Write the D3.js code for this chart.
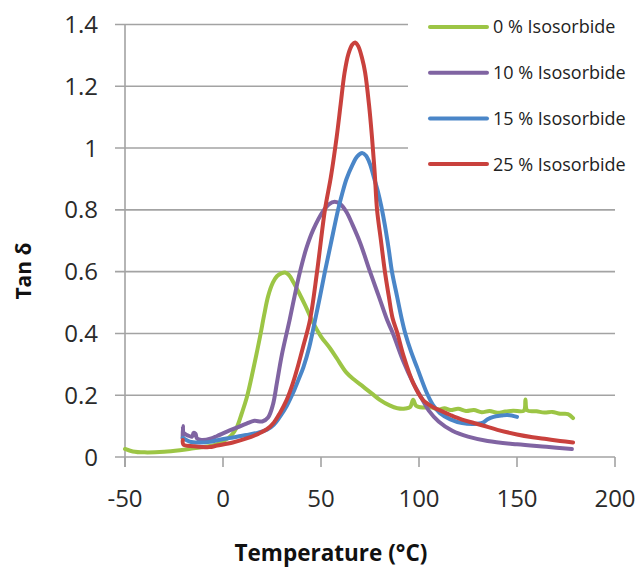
<!DOCTYPE html>
<html>
<head>
<meta charset="utf-8">
<script src="https://cdn.jsdelivr.net/npm/d3@7"></script>
<style>
  html, body { margin: 0; padding: 0; background: #fff; }
  svg { display: block; }
</style>
</head>
<body>
<svg id="chart" width="638" height="571"></svg>
<script>
// ---- data (Temperature °C, Tan δ) ----
const seriesNames = ["0 % Isosorbide", "10 % Isosorbide", "15 % Isosorbide", "25 % Isosorbide"];
const seriesColors = ["#9CC545", "#8064A2", "#4A86C8", "#C9413D"];

const iso0 = [[-50,0.026],[-46,0.018],[-40,0.015],[-30,0.017],[-22,0.022],[-15,0.028],[-8,0.034],[-3,0.042],[1,0.055],[4,0.068],[7.1,0.097],[9.5,0.14],[12.2,0.194],[15.3,0.28],[18.9,0.39],[21,0.46],[23,0.52],[25.5,0.565],[27.5,0.585],[30,0.595],[31.6,0.597],[33.5,0.59],[36,0.565],[38.5,0.535],[42,0.49],[46,0.434],[50,0.39],[54.6,0.352],[58,0.32],[63,0.273],[67,0.25],[71.5,0.228],[76,0.205],[80,0.185],[85,0.167],[89,0.158],[93,0.157],[95.5,0.162],[97,0.185],[98.5,0.166],[102,0.16],[106,0.161],[110,0.154],[113,0.158],[116,0.152],[120,0.156],[124,0.149],[128,0.152],[132,0.145],[136,0.149],[140,0.143],[144,0.147],[148,0.15],[153.5,0.15],[154.3,0.186],[155.2,0.151],[160,0.148],[164,0.144],[168,0.146],[172,0.14],[176,0.139],[178.6,0.126]];

const iso10 = [[-20.6,0.06],[-20.45,0.1],[-20.1,0.078],[-18,0.07],[-15.8,0.066],[-15,0.078],[-14,0.075],[-13.3,0.06],[-11,0.055],[-6,0.06],[-3,0.068],[2,0.082],[7,0.095],[12,0.108],[16,0.117],[20,0.115],[23,0.128],[25.5,0.17],[27.5,0.24],[30,0.33],[34,0.444],[36.5,0.52],[39.3,0.6],[42.5,0.675],[46,0.735],[51,0.795],[54,0.818],[57,0.826],[60,0.818],[63,0.793],[66,0.753],[70,0.693],[75,0.6],[79.5,0.52],[83.7,0.444],[86.7,0.4],[92,0.31],[97,0.24],[100.5,0.2],[105,0.15],[110,0.115],[117,0.085],[125,0.066],[135,0.052],[150,0.041],[165,0.033],[178,0.026]];

const iso15 = [[-20.5,0.062],[-17,0.05],[-12,0.047],[-6.6,0.049],[-3,0.054],[3,0.061],[12,0.071],[18,0.079],[22.4,0.088],[26,0.105],[29,0.13],[32.5,0.165],[35.7,0.207],[38.5,0.25],[41,0.29],[44,0.355],[47,0.444],[49.5,0.52],[52,0.6],[55,0.69],[58.7,0.8],[61,0.857],[63,0.9],[66,0.945],[68.5,0.973],[71,0.984],[73,0.975],[75,0.948],[77,0.905],[79,0.86],[80.8,0.81],[82.6,0.75],[84.5,0.675],[86.2,0.6],[88.8,0.52],[91.3,0.444],[93,0.4],[96,0.34],[99,0.29],[104,0.207],[107,0.17],[110.7,0.142],[116,0.122],[122,0.11],[128,0.107],[132.6,0.111],[135,0.122],[138,0.13],[142,0.134],[145,0.136],[150,0.13]];

const iso25 = [[-20.5,0.055],[-20.2,0.04],[-15,0.035],[-7,0.032],[-3,0.037],[5,0.047],[12,0.06],[18,0.075],[22.4,0.09],[26,0.112],[29,0.142],[32.5,0.185],[35.7,0.24],[38.5,0.3],[41,0.36],[44.4,0.444],[48,0.6],[52,0.8],[55,0.905],[58,1.036],[60,1.14],[62,1.243],[64,1.305],[66,1.335],[67.4,1.342],[69,1.33],[71,1.29],[72.5,1.245],[74.5,1.14],[76,1.036],[77.4,0.92],[78.6,0.8],[80.6,0.7],[82.6,0.6],[84.6,0.52],[86.5,0.45],[89,0.4],[92,0.33],[97,0.24],[102,0.185],[107,0.162],[111,0.15],[116,0.136],[122,0.121],[128,0.11],[133,0.101],[140,0.088],[150,0.073],[158,0.064],[165,0.058],[172,0.052],[178.6,0.047]];

const seriesData = [iso0, iso10, iso15, iso25];

const xTicks = [-50, 0, 50, 100, 150, 200];
const xTickLabels = ["-50", "0", "50", "100", "150", "200"];
const yTicks = [0, 0.2, 0.4, 0.6, 0.8, 1, 1.2, 1.4];
const yTickLabels = ["0", "0.2", "0.4", "0.6", "0.8", "1", "1.2", "1.4"];

// ---- layout ----
const svg = d3.select("#chart");
const x = d3.scaleLinear().domain([-50, 200]).range([125, 615]);
const y = d3.scaleLinear().domain([0, 1.4]).range([457, 24.5]);
const gridColor = "#A3A3A3";
const font = "'Open Sans', 'Liberation Sans', sans-serif";

// gridlines (with left tick stub)
svg.append("g").selectAll("line").data(yTicks).join("line")
  .attr("x1", 115).attr("x2", x(200))
  .attr("y1", d => y(d)).attr("y2", d => y(d))
  .attr("stroke", gridColor).attr("stroke-width", 1.6);

// y axis line
svg.append("line").attr("x1", x(-50)).attr("x2", x(-50))
  .attr("y1", y(1.4)).attr("y2", y(0) + 10)
  .attr("stroke", gridColor).attr("stroke-width", 1.6);

// x ticks
svg.append("g").selectAll("line").data(xTicks).join("line")
  .attr("x1", d => x(d)).attr("x2", d => x(d))
  .attr("y1", y(0)).attr("y2", y(0) + 10)
  .attr("stroke", gridColor).attr("stroke-width", 1.6);

// tick labels
svg.append("g").selectAll("text").data(yTicks).join("text")
  .attr("x", 98).attr("y", d => y(d)).attr("dy", "0.36em")
  .attr("text-anchor", "end")
  .attr("font-family", font).attr("font-size", 24).attr("fill", "#2a2a2a")
  .text((d, i) => yTickLabels[i]);

svg.append("g").selectAll("text").data(xTicks).join("text")
  .attr("x", d => x(d)).attr("y", 507)
  .attr("text-anchor", "middle")
  .attr("font-family", font).attr("font-size", 24).attr("fill", "#2a2a2a")
  .text((d, i) => xTickLabels[i]);

// axis titles
svg.append("text")
  .attr("transform", "translate(31,271) rotate(-90)")
  .attr("text-anchor", "middle")
  .attr("font-family", font).attr("font-weight", "bold").attr("font-size", 21).attr("fill", "#111")
  .text("Tan δ");

svg.append("text")
  .attr("x", 331).attr("y", 561)
  .attr("text-anchor", "middle")
  .attr("font-family", font).attr("font-weight", "bold").attr("font-size", 22.5).attr("fill", "#111")
  .text("Temperature (°C)");

// legend background (covers gridlines)
svg.append("rect").attr("x", 408).attr("y", 4).attr("width", 230).attr("height", 182).attr("fill", "#fff");

// series lines
const line = d3.line().x(d => x(d[0])).y(d => y(d[1])).curve(d3.curveCatmullRom.alpha(0.5));
svg.append("g").selectAll("path").data(seriesData).join("path")
  .attr("d", d => line(d))
  .attr("fill", "none")
  .attr("stroke", (d, i) => seriesColors[i])
  .attr("stroke-width", 4)
  .attr("stroke-linejoin", "round")
  .attr("stroke-linecap", "round");

// legend
const lg = svg.append("g").selectAll("g").data(seriesNames).join("g")
  .attr("transform", (d, i) => `translate(430, ${27 + i * 45.7})`);
lg.append("line").attr("x1", 0).attr("x2", 57).attr("y1", 0).attr("y2", 0)
  .attr("stroke", (d, i) => seriesColors[i]).attr("stroke-width", 4).attr("stroke-linecap", "round");
lg.append("text").attr("x", 63).attr("y", 0).attr("dy", "0.36em")
  .attr("font-family", font).attr("font-size", 18).attr("fill", "#222")
  .text(d => d);
</script>
</body>
</html>
